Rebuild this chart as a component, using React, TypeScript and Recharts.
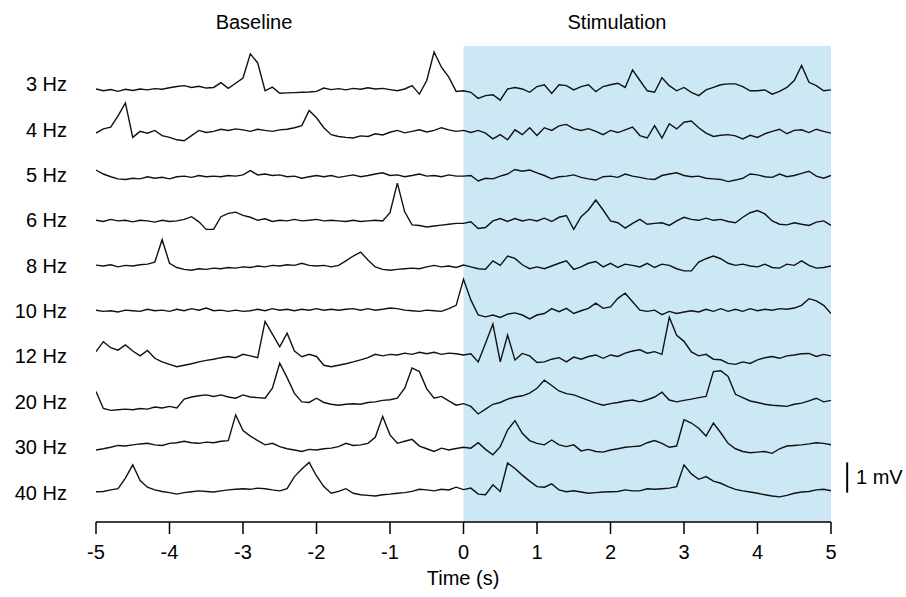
import React from 'react';
import { LineChart, Line, XAxis, YAxis, ReferenceArea, ReferenceLine } from 'recharts';

// Traces sampled every 0.1 s from -5 s to +5 s (101 samples), values in mV
// relative to each trace's own baseline row.
const hz3 = [
  -0.16, -0.22, -0.18, -0.24, -0.17, -0.21, -0.16, -0.19, -0.15, -0.17,
  -0.12, -0.08, -0.05, -0.11, -0.07, -0.13, -0.11, 0.05, -0.14, 0.03,
  0.2, 1.0, 0.7, -0.22, -0.1, -0.3, -0.29, -0.28, -0.27, -0.26,
  -0.24, -0.13, -0.18, -0.15, -0.19, -0.14, -0.17, -0.12, -0.16, -0.14,
  -0.18, -0.22, -0.16, -0.05, -0.33, 0.12, 1.06, 0.56, 0.23, -0.24,
  -0.22,
  -0.27, -0.47, -0.38, -0.35, -0.53, -0.16, -0.11, -0.16, -0.27, -0.08,
  -0.02, -0.31, -0.02, -0.05, -0.19, -0.08, -0.02, -0.25, -0.08, -0.02,
  0.03, -0.11, 0.47, 0.12, -0.22, -0.27, 0.21, -0.05, -0.22, -0.11,
  -0.27, -0.38, -0.19, -0.11, -0.02, 0.01, 0.01, -0.08, -0.22, -0.22,
  -0.19, -0.33, -0.24, -0.11, 0.12, 0.62, 0.06, -0.05, -0.22, -0.19,
];

const hz4 = [
  -0.12, 0.02, 0.08, 0.45, 0.88, -0.26, -0.06, -0.12, -0.03, -0.2,
  -0.26, -0.34, -0.37, -0.2, -0.03, -0.1, -0.06, 0.01, -0.03, 0.02,
  -0.01, -0.06, 0.01, -0.03, -0.06, -0.01, 0.01, 0.06, 0.13, 0.63,
  0.39, 0.06, -0.17, -0.23, -0.26, -0.28, -0.21, -0.23, -0.14, -0.18,
  -0.09, -0.03, -0.11, -0.06, -0.01, -0.08, -0.03, 0.06, -0.01, -0.06,
  -0.03,
  -0.1, -0.03, -0.12, -0.31, -0.17, -0.34, -0.01, -0.17, 0.06, -0.2,
  0.06, -0.03, 0.12, 0.17, 0.03, -0.03, 0.03, -0.06, -0.17, -0.03,
  -0.1, -0.01, 0.08, -0.2, -0.28, 0.13, -0.28, 0.19, 0.02, 0.24,
  0.28, 0.06, -0.12, -0.23, -0.19, -0.17, -0.21, -0.31, -0.19, -0.26,
  -0.14, -0.06, 0.01, -0.14, -0.03, -0.01, -0.1, 0.01, -0.06, -0.12,
];

const hz5 = [
  0.16, 0.03, -0.06, -0.13, -0.15, -0.11, -0.13, -0.06, -0.11, -0.08,
  -0.13, -0.06, -0.04, -0.08, -0.02, -0.06, -0.04, -0.06, -0.02, -0.04,
  0.0, 0.14, 0.0, 0.03, -0.02, 0.0, -0.06, -0.04, -0.11, -0.06,
  -0.02, -0.06, -0.02, -0.08, -0.04, 0.0, -0.06, -0.02, 0.03, 0.07,
  -0.02, 0.0, -0.06, -0.02, 0.03, -0.04, -0.02, -0.06, 0.0, -0.04,
  -0.04,
  -0.02, -0.2, -0.11, -0.13, -0.04, 0.03, 0.18, 0.12, 0.16, 0.07,
  -0.02, -0.13, -0.06, -0.04, 0.0, -0.08, -0.13, -0.17, -0.06, -0.04,
  -0.08, 0.03, -0.04, -0.08, -0.13, -0.15, -0.02, 0.03, 0.07, -0.02,
  -0.06, -0.04, -0.11, -0.13, -0.15, -0.22, -0.17, -0.11, 0.03, 0.0,
  -0.06, -0.08, 0.03, -0.06, -0.02, 0.05, 0.12, -0.04, -0.11, -0.02,
];

const hz6 = [
  0.0, -0.04, 0.03, -0.02, 0.0, -0.05, 0.0, -0.02, -0.06, 0.0,
  -0.04, -0.02, 0.03, 0.12, -0.05, -0.3, -0.3, 0.12, 0.23, 0.27,
  0.16, 0.1, 0.0, 0.05, -0.04, 0.0, -0.02, 0.03, -0.02, 0.0,
  0.03, -0.02, 0.0, -0.02, -0.04, 0.0, -0.04, -0.02, 0.0, -0.02,
  0.25, 1.23, 0.28, -0.15, -0.17, -0.22, -0.19, -0.16, -0.13, -0.1,
  -0.1,
  -0.05, -0.27, -0.24, -0.02, 0.06, -0.04, 0.06, -0.02, 0.03, -0.02,
  0.07, -0.04, 0.1, 0.16, -0.3, 0.12, 0.34, 0.67, 0.34, -0.02,
  -0.08, -0.26, -0.1, 0.03, -0.13, -0.1, -0.08, -0.17, -0.02, 0.1,
  0.03, 0.0, 0.07, 0.0, 0.03, -0.04, -0.08, 0.1, 0.25, 0.32,
  0.21, -0.02, -0.13, -0.15, -0.08, -0.13, -0.17, -0.06, -0.02, -0.17,
];

const hz8 = [
  0.02, -0.01, 0.03, -0.04, 0.01, -0.01, 0.03, 0.05, 0.12, 0.86,
  0.08, -0.06, -0.12, -0.15, -0.1, -0.12, -0.08, -0.1, -0.06, -0.08,
  -0.04, -0.06, -0.01, -0.04, 0.01, -0.01, 0.03, 0.01, 0.08, 0.01,
  -0.01, 0.01, -0.04, 0.01, 0.16, 0.32, 0.45, 0.19, -0.04, -0.12,
  -0.15, -0.12, -0.1, -0.08, -0.1, -0.04, 0.01, -0.04, -0.01, -0.06,
  0.02,
  -0.04, -0.1, -0.12, 0.16, 0.01, 0.32, 0.24, 0.03, -0.1, -0.04,
  -0.1, -0.01, 0.08, 0.16, -0.12, -0.04, 0.08, 0.14, -0.04, 0.08,
  -0.06, 0.05, 0.01, -0.04, 0.08, -0.06, 0.05, 0.01, -0.1, -0.17,
  -0.17, 0.12, 0.23, 0.32, 0.23, 0.08, 0.01, 0.05, -0.01, -0.04,
  0.05, -0.06, -0.08, 0.05, 0.01, 0.16, 0.01, -0.08, -0.06, -0.01,
];

const hz10 = [
  0.03, -0.01, 0.01, -0.03, 0.03, 0.01, -0.01, 0.06, 0.01, 0.03,
  -0.01, 0.06, 0.01, 0.08, 0.03, 0.1, 0.01, 0.03, -0.01, 0.03,
  -0.01, 0.01, 0.06, 0.01, 0.08, 0.03, 0.06, 0.01, 0.06, 0.03,
  0.08, 0.03, 0.06, 0.03, 0.06, 0.08, 0.03, 0.08, 0.03, 0.06,
  0.1, 0.08, 0.03, 0.01, -0.01, 0.03, 0.01, -0.01, 0.08, 0.19,
  1.05,
  0.37, -0.13, -0.19, -0.13, -0.21, -0.1, -0.06, -0.13, -0.26, -0.13,
  -0.08, 0.08, -0.02, 0.09, -0.08, 0.01, 0.09, 0.26, 0.09, 0.14,
  0.42, 0.59, 0.31, 0.03, -0.01, 0.03, -0.12, -0.01, -0.08, -0.03,
  0.01, -0.03, 0.06, -0.01, 0.08, -0.01, 0.06, -0.01, 0.08, 0.01,
  0.06, 0.03, 0.08, 0.06, 0.1, 0.19, 0.41, 0.34, 0.19, -0.08,
];

const hz12 = [
  0.16, 0.49, 0.29, 0.21, 0.38, 0.18, 0.02, 0.2, -0.06, -0.18,
  -0.26, -0.34, -0.29, -0.24, -0.18, -0.13, -0.09, -0.04, 0.0, -0.04,
  0.07, 0.02, -0.04, 1.16, 0.74, 0.32, 0.77, 0.18, -0.01, 0.07,
  0.0, -0.29, -0.34, -0.29, -0.24, -0.18, -0.11, -0.04, 0.07, 0.02,
  0.07, 0.05, 0.11, 0.07, 0.14, 0.09, 0.14, 0.07, 0.11, 0.09,
  0.05,
  0.09, -0.18, 0.44, 1.07, -0.18, 0.71, -0.12, 0.1, 0.02, -0.2,
  -0.18, -0.09, -0.04, -0.18, -0.02, -0.09, 0.0, 0.05, -0.06, 0.05,
  0.0, 0.11, 0.18, 0.22, 0.11, 0.16, 0.07, 1.3, 0.7, 0.5,
  0.15, 0.02, 0.07, -0.09, -0.11, -0.23, -0.26, -0.18, -0.23, -0.11,
  -0.04, 0.0, -0.06, 0.02, 0.05, 0.09, 0.1, 0.0, 0.07, 0.02,
];

const hz20 = [
  0.34, -0.22, -0.28, -0.26, -0.24, -0.26, -0.22, -0.24, -0.17, -0.2,
  -0.15, -0.2, 0.09, 0.16, 0.2, 0.23, 0.18, 0.23, 0.16, 0.12,
  0.23, 0.16, 0.14, 0.12, 0.45, 1.28, 0.8, 0.28, 0.0, -0.02,
  0.12, -0.02, -0.08, -0.11, -0.08, -0.06, -0.08, -0.02, 0.0, 0.05,
  0.07, 0.12, 0.45, 1.12, 1.0, 0.43, 0.12, 0.18, 0.03, -0.11,
  -0.06,
  -0.15, -0.4, -0.24, -0.08, -0.02, 0.09, 0.16, 0.2, 0.29, 0.45,
  0.72, 0.54, 0.36, 0.27, 0.23, 0.14, 0.05, -0.04, -0.11, -0.06,
  -0.02, 0.03, 0.06, 0.0, 0.07, 0.16, 0.32, 0.06, 0.0, 0.05,
  0.09, 0.14, 0.18, 1.0, 1.03, 0.84, 0.25, 0.14, 0.03, -0.02,
  -0.08, -0.11, -0.13, -0.15, -0.08, -0.04, 0.03, 0.12, 0.0, 0.05,
];

const hz30 = [
  -0.09, -0.05, 0.0, 0.06, 0.04, 0.08, 0.11, 0.13, 0.08, 0.06,
  0.13, 0.15, 0.2, 0.15, 0.13, 0.17, 0.15, 0.2, 0.22, 1.07,
  0.55, 0.37, 0.22, 0.08, 0.13, 0.02, -0.05, -0.09, -0.14, -0.07,
  -0.09, -0.05, -0.03, 0.02, 0.13, 0.06, 0.08, 0.13, 0.33, 1.02,
  0.41, 0.13, 0.2, 0.26, 0.04, -0.05, -0.14, -0.03, -0.09, -0.04,
  0.0,
  -0.03, 0.15, -0.07, -0.25, 0.02, 0.57, 0.88, 0.46, 0.22, 0.13,
  0.08, 0.24, 0.08, 0.02, 0.08, -0.12, -0.07, -0.14, -0.16, -0.09,
  -0.05, 0.0, 0.02, 0.04, 0.15, 0.22, 0.13, 0.0, 0.04, 0.91,
  0.8, 0.63, 0.37, 0.8, 0.48, 0.13, -0.05, -0.14, -0.18, -0.16,
  -0.14, -0.2, -0.05, 0.04, 0.06, 0.08, 0.11, 0.15, 0.13, 0.08,
];

const hz40 = [
  0.03, 0.04, 0.09, 0.13, 0.48, 0.92, 0.4, 0.18, 0.09, 0.04,
  0.0, -0.05, 0.0, 0.03, 0.06, 0.04, 0.02, 0.06, 0.09, 0.11,
  0.13, 0.11, 0.15, 0.13, 0.09, 0.06, 0.13, 0.53, 0.78, 1.0,
  0.55, 0.2, -0.02, 0.04, 0.13, -0.02, -0.07, -0.09, -0.11, -0.07,
  -0.05, -0.02, 0.0, 0.04, 0.11, 0.09, 0.06, 0.11, 0.09, 0.18,
  0.1,
  0.15, -0.05, -0.07, 0.26, 0.04, 0.98, 0.8, 0.58, 0.38, 0.2,
  0.18, 0.29, 0.09, 0.03, 0.06, 0.02, -0.02, 0.0, 0.02, 0.03,
  0.04, 0.09, 0.06, 0.06, 0.13, 0.11, 0.13, 0.15, 0.2, 0.92,
  0.62, 0.44, 0.53, 0.38, 0.31, 0.2, 0.11, 0.06, 0.02, -0.02,
  -0.07, -0.11, -0.14, -0.09, -0.02, 0.02, 0.04, 0.09, 0.11, 0.06,
];

const traceLabels = ['3 Hz', '4 Hz', '5 Hz', '6 Hz', '8 Hz', '10 Hz', '12 Hz', '20 Hz', '30 Hz', '40 Hz'];
const traceValues = [hz3, hz4, hz5, hz6, hz8, hz10, hz12, hz20, hz30, hz40];
const xTicks = [-5, -4, -3, -2, -1, 0, 1, 2, 3, 4, 5];

const ROW_STEP = 1.5; // mV between stacked traces
const Y_DOMAIN: [number, number] = [-0.97, 14.76];
const FONT = '"Liberation Sans", Arial, Helvetica, sans-serif';
const FONT_SIZE = 20;

// top trace sits highest, 40 Hz at 0
const rowOffsets = traceLabels.map((_, i) => (traceLabels.length - 1 - i) * ROW_STEP);

const chartData = hz3.map((_, k) => {
  const row: Record<string, number> = { t: Math.round((-5 + k * 0.1) * 10) / 10 };
  traceValues.forEach((vals, i) => {
    row[`s${i}`] = rowOffsets[i] + vals[k];
  });
  return row;
});

const RowLabel = ({ y, payload }: any) => {
  const idx = rowOffsets.findIndex(o => Math.abs(o - payload.value) < 1e-6);
  return (
    <text x={67} y={y} textAnchor="end" dominantBaseline="central" fontSize={FONT_SIZE} fontFamily={FONT} fill="#000">
      {traceLabels[idx]}
    </text>
  );
};

const textStyle: React.CSSProperties = {
  position: 'absolute',
  fontFamily: FONT,
  fontSize: FONT_SIZE,
  color: '#000',
  whiteSpace: 'nowrap',
  lineHeight: 1,
};

export default function App() {
  return (
    <div style={{ position: 'absolute', left: 0, top: 0, width: 906, height: 597, background: '#fff' }}>
      <LineChart width={906} height={597} data={chartData} margin={{ top: 46, right: 75, bottom: 0, left: 0 }}>
        <ReferenceArea x1={0} x2={5} y1={Y_DOMAIN[0]} y2={Y_DOMAIN[1]} fill="#cce8f5" fillOpacity={1} stroke="none" />
        <XAxis
          type="number"
          dataKey="t"
          domain={[-5, 5]}
          ticks={xTicks}
          height={75}
          tickSize={12}
          tickMargin={11}
          stroke="#000"
          strokeWidth={1.5}
          tick={{ fontSize: FONT_SIZE, fill: '#000', fontFamily: FONT }}
          allowDataOverflow
        />
        <YAxis
          type="number"
          domain={Y_DOMAIN}
          ticks={rowOffsets}
          width={96}
          axisLine={false}
          tickLine={false}
          tick={<RowLabel />}
          allowDataOverflow
        />
        {traceValues.map((_, i) => (
          <Line
            key={traceLabels[i]}
            type="linear"
            dataKey={`s${i}`}
            stroke="#111"
            strokeWidth={1.4}
            dot={false}
            activeDot={false}
            isAnimationActive={false}
          />
        ))}
        {/* 1 mV scale bar */}
        <ReferenceLine
          segment={[{ x: 5.22, y: 0 }, { x: 5.22, y: 1 }]}
          stroke="#000"
          strokeWidth={2}
          ifOverflow="visible"
        />
      </LineChart>
      <div style={{ ...textStyle, left: 254, top: 22, transform: 'translate(-50%, -50%)' }}>Baseline</div>
      <div style={{ ...textStyle, left: 617, top: 22, transform: 'translate(-50%, -50%)' }}>Stimulation</div>
      <div style={{ ...textStyle, left: 463, top: 578, transform: 'translate(-50%, -50%)' }}>Time (s)</div>
      <div style={{ ...textStyle, left: 856, top: 477, transform: 'translateY(-50%)' }}>1 mV</div>
    </div>
  );
}
